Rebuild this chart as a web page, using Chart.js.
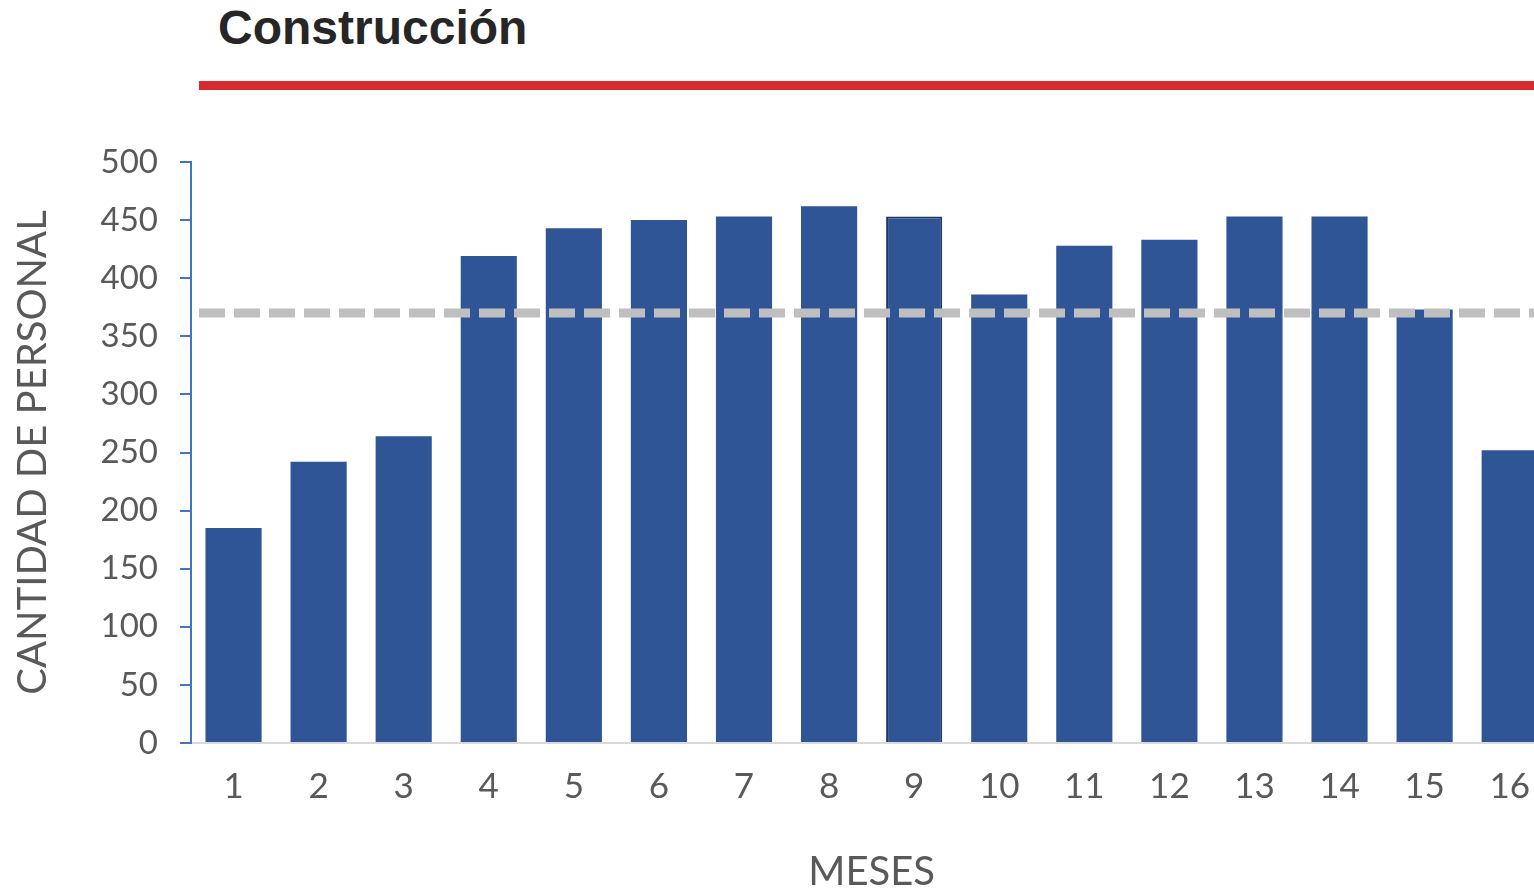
<!DOCTYPE html>
<html lang="es">
<head>
<meta charset="utf-8">
<title>Construcción</title>
<script src="https://cdn.jsdelivr.net/npm/chart.js@4/dist/chart.umd.min.js"></script>
<style>
  html, body { margin: 0; padding: 0; background: #fff; overflow: hidden; }
  #wrap { position: relative; width: 1553px; height: 890px; }
  #title {
    position: absolute; left: 218px; top: 4px;
    font: bold 48px/48px "Liberation Sans", Arial, sans-serif;
    color: #262626; white-space: nowrap;
  }
  #rule {
    position: absolute; left: 199px; top: 81px; width: 1354px; height: 9px;
    background: #d92b2e;
  }
  canvas { position: absolute; left: 0; top: 0; }
</style>
</head>
<body>
<div id="wrap">
  <div id="title">Construcción</div>
  <div id="rule"></div>
  <canvas id="chart" width="1553" height="890"></canvas>
</div>
<script>
/* datos */
const meses = ['1', '2', '3', '4', '5', '6', '7', '8', '9', '10', '11', '12', '13', '14', '15', '16'];
const personal = [185, 242, 264, 419, 443, 450, 453, 462, 453, 386, 428, 433, 453, 453, 373, 252];
const promedio = 370;
const yMin = 0;
const yMax = 500;
const yStep = 50;

const GRAY_TEXT = '#595959';
const AXIS_BLUE = '#4472c4';
const BAR_BLUE = '#2f5597';

// línea horizontal punteada del promedio
const promedioLine = {
  id: 'promedioLine',
  afterDatasetsDraw(chart) {
    const { ctx, chartArea } = chart;
    const y = chart.scales.y.getPixelForValue(promedio);
    ctx.save();
    ctx.beginPath();
    ctx.setLineDash([26, 9]);
    ctx.lineWidth = 9;
    ctx.strokeStyle = '#bfbfbf';
    ctx.moveTo(chartArea.left + 8, y);
    ctx.lineTo(chartArea.right, y);
    ctx.stroke();
    ctx.restore();
  }
};

new Chart(document.getElementById('chart'), {
  type: 'bar',
  data: {
    labels: meses,
    datasets: [{
      label: 'Cantidad de personal',
      data: personal,
      backgroundColor: BAR_BLUE,
      borderColor: '#1f3864',
      borderWidth: (c) => c.dataIndex === 8 ? 2 : 0,
      categoryPercentage: 1,
      barPercentage: 0.66
    }]
  },
  options: {
    responsive: false,
    animation: false,
    layout: { padding: { top: 162, right: 0, bottom: 0, left: 0 } },
    plugins: {
      legend: { display: false },
      tooltip: { enabled: false }
    },
    scales: {
      x: {
        grid: { display: false, drawTicks: false },
        border: { display: true, color: '#d9d9d9', width: 2 },
        ticks: { color: GRAY_TEXT, font: { family: 'Lato', size: 35 }, padding: 23 },
        title: {
          display: true, text: 'MESES', color: GRAY_TEXT,
          font: { family: 'Lato', size: 40, lineHeight: 0.9 },
          padding: { top: 0, bottom: 0 }
        },
        afterFit: (s) => { s.height = 147; }
      },
      y: {
        min: yMin,
        max: yMax,
        ticks: { stepSize: yStep, color: GRAY_TEXT, font: { family: 'Lato', size: 33 }, padding: 22 },
        grid: { display: true, drawOnChartArea: false, drawTicks: true, tickLength: 11, color: AXIS_BLUE, lineWidth: 2 },
        border: { display: true, color: AXIS_BLUE, width: 2 },
        title: {
          display: true, text: 'CANTIDAD DE PERSONAL', color: GRAY_TEXT,
          font: { family: 'Lato', size: 40 },
          padding: { top: 9, bottom: 0 }
        },
        afterFit: (s) => { s.width = 191; }
      }
    }
  },
  plugins: [promedioLine]
});
</script>
</body>
</html>
